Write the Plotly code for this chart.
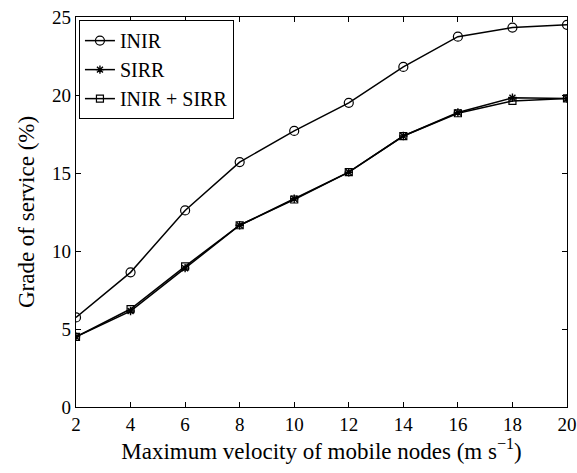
import plotly.graph_objects as go

velocity = [2, 4, 6, 8, 10, 12, 14, 16, 18, 20]
inir = [5.74, 8.63, 12.6, 15.7, 17.7, 19.5, 21.8, 23.74, 24.32, 24.5]
sirr = [4.5, 6.15, 8.9, 11.65, 13.35, 15.05, 17.37, 18.88, 19.82, 19.78]
inir_sirr = [4.5, 6.28, 9.02, 11.65, 13.3, 15.05, 17.37, 18.83, 19.62, 19.78]

FONT = "Liberation Serif"

fig = go.Figure()
fig.add_trace(go.Scatter(
    x=velocity, y=inir, name="INIR", mode="lines+markers",
    line=dict(color="black", width=1.5),
    marker=dict(symbol="circle-open", size=9, color="black", line=dict(width=1.2)),
))
fig.add_trace(go.Scatter(
    x=velocity, y=sirr, name="SIRR", mode="lines+markers",
    line=dict(color="black", width=1.5),
    marker=dict(symbol="asterisk-open", size=7, color="black", line=dict(width=1.4)),
))
fig.add_trace(go.Scatter(
    x=velocity, y=inir_sirr, name="INIR + SIRR", mode="lines+markers",
    line=dict(color="black", width=1.5),
    marker=dict(symbol="square-open", size=7, color="black", line=dict(width=1.2)),
))

axis_common = dict(
    showgrid=False, zeroline=False, showline=True, linecolor="black", linewidth=1.3,
    mirror="ticks", ticks="inside", ticklen=5, tickcolor="black",
    ticklabeloverflow="allow", automargin=False,
    tickfont=dict(family=FONT, size=19, color="black"),
)

fig.update_layout(
    width=577, height=473,
    margin=dict(l=76, r=10, t=17, b=66),
    paper_bgcolor="white", plot_bgcolor="white",
    font=dict(family=FONT, color="black"),
    showlegend=True,
    legend=dict(
        x=0.006, y=0.992, xanchor="left", yanchor="top",
        bordercolor="black", borderwidth=1, bgcolor="white",
        font=dict(family=FONT, size=20, color="black"),
        tracegroupgap=0, itemwidth=30,
    ),
    xaxis=dict(
        range=[2, 20], tickvals=velocity,
        title=dict(text="Maximum velocity of mobile nodes (m s<sup>\u22121</sup>)",
                   font=dict(family=FONT, size=23, color="black"), standoff=8),
        **axis_common,
    ),
    yaxis=dict(
        range=[0, 25], tickvals=[0, 5, 10, 15, 20, 25],
        title=dict(text="Grade of service (%)",
                   font=dict(family=FONT, size=23, color="black"), standoff=10),
        **axis_common,
    ),
)

fig.write_html("out.html")
